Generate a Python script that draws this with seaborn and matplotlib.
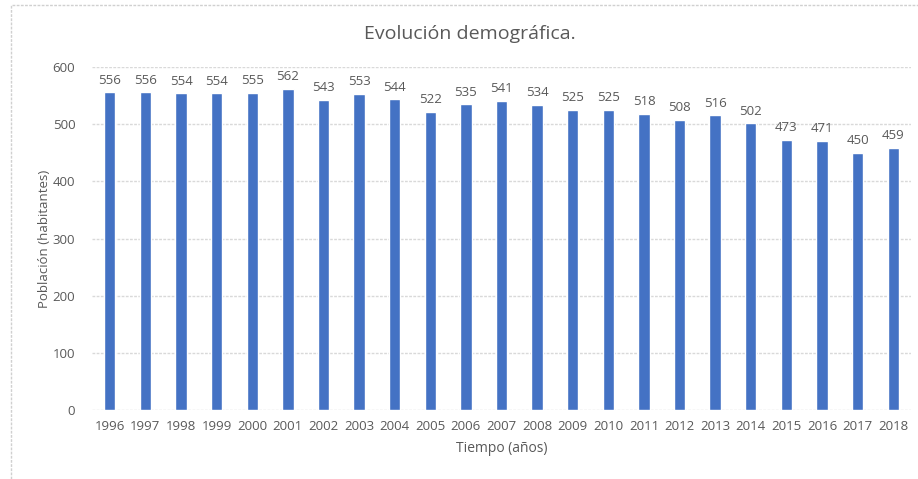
import matplotlib
matplotlib.use("Agg")
import matplotlib.pyplot as plt
import seaborn as sns
import pandas as pd
from matplotlib.patches import Rectangle

# ── Data ─────────────────────────────────────────────────
years = [str(y) for y in range(1996, 2019)]
population = [556, 556, 554, 554, 555, 562, 543, 553, 544, 522, 535, 541,
              534, 525, 525, 518, 508, 516, 502, 473, 471, 450, 459]

BLUE = "#4472C4"
GRAY = "#595959"
GRID = "#D9D9D9"

sns.set_theme(style="white")
plt.rcParams["font.family"] = ["Open Sans", "DejaVu Sans"]

df = pd.DataFrame({"year": years, "pop": population})

fig = plt.figure(figsize=(9.18, 4.79), dpi=100)
ax = fig.add_axes([0.1002, 0.144, 0.8922, 0.716])

sns.barplot(data=df, x="year", y="pop", color=BLUE, width=0.32,
            saturation=1, ax=ax)
ax.bar_label(ax.containers[0], padding=4, fontsize=9.5, color=GRAY)

ax.set_ylim(0, 600)
ax.set_xlim(-0.5, len(years) - 0.5)
ax.set_yticks(range(0, 601, 100))
ax.yaxis.grid(True, color=GRID, linewidth=1, linestyle=(0, (2, 1)))
ax.set_axisbelow(True)
for s in ax.spines.values():
    s.set_visible(False)
ax.tick_params(axis="both", length=0, labelsize=9.5, labelcolor=GRAY)
ax.tick_params(axis="y", pad=12)
ax.tick_params(axis="x", pad=7)

ax.set_xlabel("Tiempo (años)", fontsize=10, color=GRAY, labelpad=6)
ax.set_ylabel("Población (habitantes)", fontsize=9.5, color=GRAY, labelpad=1)
fig.text(0.512, 0.93, "Evolución demográfica.", ha="center", va="center",
         fontsize=14, color=GRAY)

# chart frame (cut off at right and bottom)
fig.patches.append(Rectangle((11 / 918, -0.05), 1.0, 1 - 5 / 479 + 0.05,
                             transform=fig.transFigure, fill=False,
                             edgecolor="#D0D0D0", linewidth=1,
                             linestyle=(0, (2, 1))))

fig.savefig("out.png", dpi=100, facecolor="white")
